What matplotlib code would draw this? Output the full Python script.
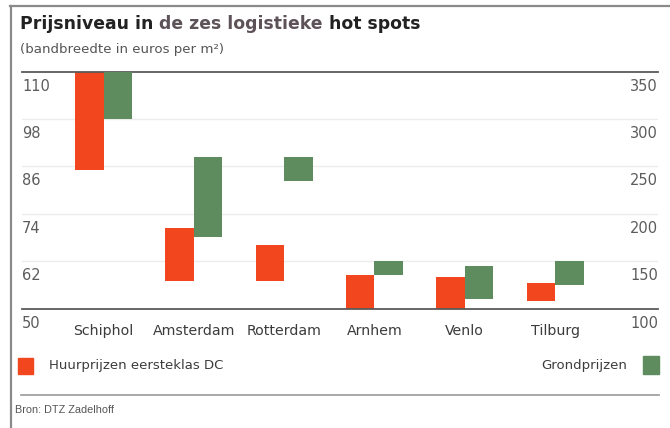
import matplotlib
matplotlib.use("Agg")
import matplotlib.pyplot as plt
import matplotlib.transforms as mtrans
from matplotlib.lines import Line2D
from matplotlib.patches import Rectangle

# Price bands per logistics hot spot
cities = ["Schiphol", "Amsterdam", "Rotterdam", "Arnhem", "Venlo", "Tilburg"]
huur_low = [85, 57, 57, 50, 50, 52]          # rent, first-class DC (left axis)
huur_high = [110, 70.5, 66, 58.5, 58, 56.5]
grond_low = [300, 175, 235, 135, 110, 125]   # land prices (right axis)
grond_high = [350, 260, 260, 150, 145, 150]
left_ticks = [50, 62, 74, 86, 98, 110]
right_ticks = [100, 150, 200, 250, 300, 350]

RED = "#F2461E"
GREEN = "#5E8C5E"
TXT = "#3c3c3c"
FONT = "DejaVu Sans"
SMALL_FONT = "Liberation Sans"

W, H = 670, 428
fig = plt.figure(figsize=(W / 100, H / 100), dpi=100)
fig.patch.set_facecolor("white")
renderer = fig.canvas.get_renderer()


def fx(px):
    return px / W


def fy(py):
    return 1 - py / H


# Outer frame (top and left edge)
fig.add_artist(Line2D([fx(10), 1], [fy(5.5), fy(5.5)], color="#8a8a8a", lw=1.6))
fig.add_artist(Line2D([fx(10.5), fx(10.5)], [fy(5.5), 0], color="#8a8a8a", lw=1.6))

# Title, written in pieces so the middle words can carry their own colour
title_parts = [("Prijsniveau in", "#222222"), ("de zes logistieke", "#5e5259"),
               ("hot spots", "#222222")]
title_kw = dict(fontsize=12.4, fontweight="bold", family=FONT, va="center")
probe = fig.text(0, 0, "a a", **title_kw)
w_sp = probe.get_window_extent(renderer).width
probe.set_text("aa")
w_sp -= probe.get_window_extent(renderer).width
probe.remove()
px = 20.0
for part, col in title_parts:
    t = fig.text(fx(px), fy(24.3), part, color=col, **title_kw)
    px += t.get_window_extent(renderer).width + w_sp

fig.text(fx(20), fy(50), "(bandbreedte in euros per m²)",
         fontsize=9.6, color="#555555", family=FONT, va="center")

ax_top, ax_bot = 71.7, 308.5
ax = fig.add_axes([fx(22), fy(ax_bot), (658 - 22) / W, (ax_bot - ax_top) / H])
ax2 = ax.twinx()

x = list(range(len(cities)))
bw = 0.316
ax.set_xlim(-0.9025, 6.14)
ax.set_ylim(left_ticks[0], left_ticks[-1])
ax2.set_ylim(right_ticks[0], right_ticks[-1])

ax.bar(x, [h - l for l, h in zip(huur_low, huur_high)], bottom=huur_low,
       width=-bw, align="edge", color=RED, zorder=3)
ax2.bar(x, [h - l for l, h in zip(grond_low, grond_high)], bottom=grond_low,
        width=bw, align="edge", color=GREEN, zorder=3)

for v in left_ticks:
    if v in (left_ticks[0], left_ticks[-1]):
        ax.axhline(v, color="#5a5a5a", lw=1.3, zorder=4, clip_on=False)
    else:
        ax.axhline(v, color="#ececec", lw=1.0, zorder=1)

for a in (ax, ax2):
    for s in a.spines.values():
        s.set_visible(False)
    a.set_yticks([])

ax.set_xticks(x)
ax.set_xticklabels(cities, fontsize=10.2, color=TXT, family=FONT)
ax.tick_params(axis="x", length=0, pad=11)

left_tr = mtrans.offset_copy(ax.get_yaxis_transform(), fig=fig, x=0, y=-7, units="dots")
for v in left_ticks:
    ax.text(0, v, str(v), transform=left_tr, ha="left", va="top",
            fontsize=10.5, color="#5c5c5c", family=FONT)
right_tr = mtrans.offset_copy(ax2.get_yaxis_transform(), fig=fig, x=0, y=-7, units="dots")
for v in right_ticks:
    ax2.text(1, v, str(v), transform=right_tr, ha="right", va="top",
             fontsize=10.5, color="#5c5c5c", family=FONT)

# Legend
fig.add_artist(Rectangle((fx(18), fy(374)), 15 / W, 16 / H, transform=fig.transFigure,
                         color=RED))
fig.text(fx(49), fy(366), "Huurprijzen eersteklas DC", fontsize=9.5, color=TXT,
         family=FONT, va="center")
fig.add_artist(Rectangle((fx(643), fy(374)), 16 / W, 18 / H, transform=fig.transFigure,
                         color=GREEN))
fig.text(fx(627), fy(366), "Grondprijzen", fontsize=9.5, color=TXT,
         family=FONT, va="center", ha="right")

# Source line
fig.add_artist(Line2D([fx(21), fx(659)], [fy(395), fy(395)], color="#9a9a9a", lw=1.2))
fig.text(fx(15), fy(410), "Bron: DTZ Zadelhoff", fontsize=7.8, color="#555555",
         family=SMALL_FONT, va="center")

fig.savefig("out.png", dpi=100)
